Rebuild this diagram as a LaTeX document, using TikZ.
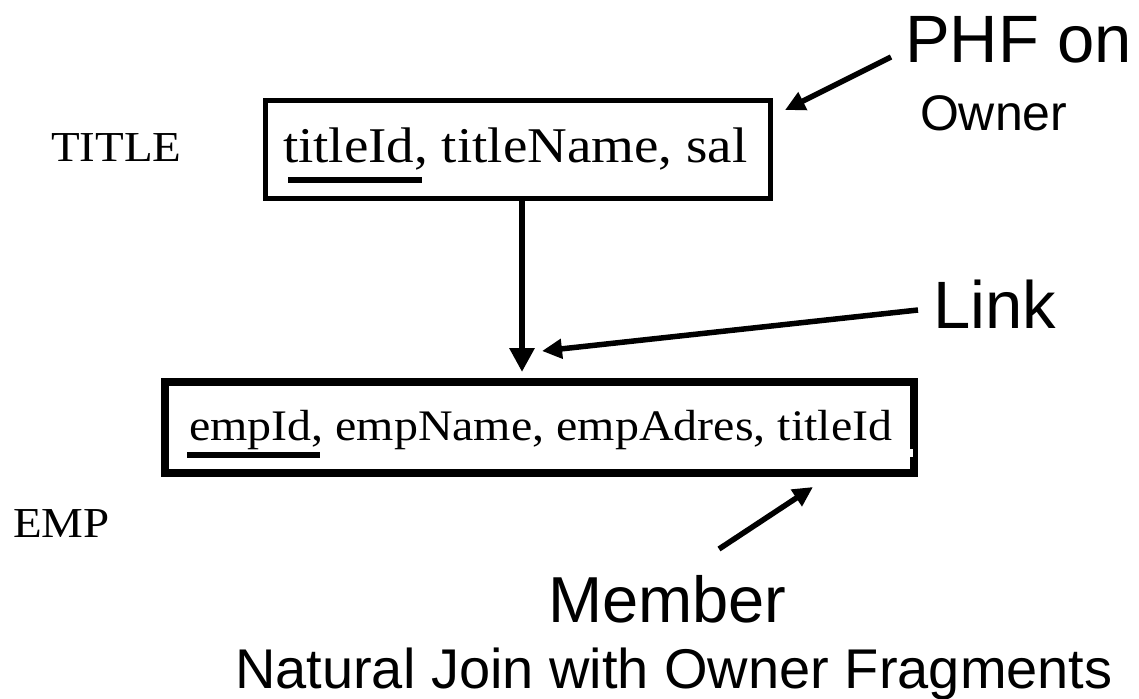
\documentclass[tikz,border=0pt]{standalone}
\usepackage{fontspec}
\newfontfamily\relfont[FakeStretch=1.1]{Liberation Serif}
\newfontfamily\notefont{Liberation Sans}
\usetikzlibrary{arrows.meta}

\tikzset{
  relbox/.style={draw=black, fill=none, inner sep=0pt, outer sep=0pt},
  reltext/.style={anchor=base west, inner sep=0pt, outer sep=0pt, font=\relfont},
  note/.style={anchor=base west, inner sep=0pt, outer sep=0pt, font=\notefont},
  keybar/.style={fill=black},
  pointer/.style={draw=black, line width=5.5pt, -{Triangle[width=19pt,length=20pt]}},
  linkarrow/.style={draw=black, line width=6pt, -{Triangle[width=24pt,length=24pt]}}
}

\begin{document}
\begin{tikzpicture}[x=1pt,y=-1pt]
\useasboundingbox (0,0) rectangle (1139,698);
\fill[white] (0,0) rectangle (1139,698);

% owner relation
\node[reltext, font=\relfont\fontsize{42.7}{48}\selectfont] (titlelbl) at (51,161) {TITLE};
\node[relbox, line width=5pt, minimum width=505pt, minimum height=98pt] (owner) at (518,149.5) {};
\node[reltext, font=\relfont\fontsize{50}{56}\selectfont] (ownertext) at (283,162) {titleId, titleName, sal};
\fill[keybar] (288,177) rectangle (422,183);

% member relation
\node[relbox, line width=8pt, minimum width=749pt, minimum height=91pt] (emp) at (539.5,427.5) {};
\fill[white] (909,449) rectangle (913,457);
\node[reltext, font=\relfont\fontsize{43.6}{48}\selectfont] (emptext) at (189,440) {empId, empName, empAdres, titleId};
\fill[keybar] (187,452) rectangle (320,458);
\node[reltext, font=\relfont\fontsize{42.7}{48}\selectfont] (emplbl) at (13,537) {EMP};

% annotations
\node[note, font=\notefont\fontsize{67}{72}\selectfont] (phf) at (905,63) {PHF on};
\node[note, font=\notefont\fontsize{50}{56}\selectfont] (ownerlbl) at (920,130) {Owner};
\node[note, font=\notefont\fontsize{67}{72}\selectfont] (link) at (933,328) {Link};
\node[note, font=\notefont\fontsize{65}{70}\selectfont] (member) at (548,622) {Member};
\node[note, font=\notefont\fontsize{56}{62}\selectfont] (join) at (235,688) {Natural Join with Owner Fragments};

% connector ends
\coordinate (linkx) at (522,0);
\coordinate (phftail) at (891,57);
\coordinate (phftip) at (785,110);
\coordinate (linktail) at (918,310);
\coordinate (linktip) at (542,351);
\coordinate (membertail) at (719,549);
\coordinate (membertip) at (813,487);

% link from owner to member
\draw[linkarrow, shorten >=10pt] (owner.south -| linkx) -- (emp.north -| linkx);

% annotation pointers
\draw[pointer] (phftail) -- (phftip);
\draw[pointer] (linktail) -- (linktip);
\draw[pointer] (membertail) -- (membertip);
\end{tikzpicture}
\end{document}
